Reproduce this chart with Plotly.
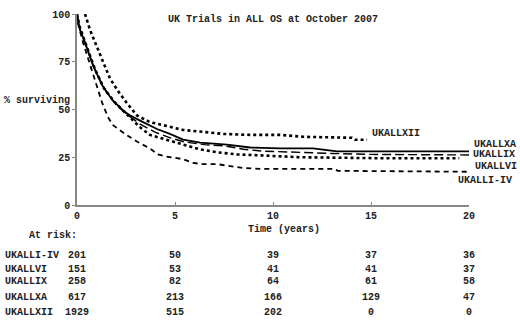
import plotly.graph_objects as go

# Survival curves (years, % surviving)
t_I_IV = [0, 0.05, 0.31, 0.82, 1.28, 1.58, 1.84, 2.45, 3.06, 3.72, 4.13, 4.49, 5.1, 5.41, 5.92, 6.43, 7.14, 7.96, 8.47, 9.34, 10.36, 13.16, 13.3, 20]
s_I_IV = [100, 95, 85, 68, 53.6, 46, 41.8, 37.2, 33.2, 29.6, 26.5, 25.5, 24.5, 24, 22, 21.4, 21.4, 20.4, 19.4, 18.9, 18.9, 18.9, 17.9, 17.4]

t_VI = [0, 0.2, 0.5, 1.0, 1.5, 2.0, 2.6, 3.2, 4.0, 4.8, 5.5, 6.5, 7.5, 8.5, 9.5, 11, 13, 15, 20]
s_VI = [100, 90, 82, 69, 59, 52.5, 47, 42.5, 38, 35, 33, 31.6, 31, 29.2, 28.2, 27.6, 27, 26.5, 26.2]

t_IX = [0, 0.15, 0.46, 0.92, 1.38, 1.94, 2.55, 3.2, 3.72, 4.59, 5.41, 6.28, 7.14, 8.16, 9.34, 11.38, 15.46, 19.5]
s_IX = [100, 93, 84, 71, 61, 53.6, 47.4, 40.8, 36.7, 34.2, 31.6, 29.1, 27.6, 26.5, 26, 25, 24.5, 24.5]

t_XA = [0, 0.15, 0.41, 0.82, 1.28, 1.79, 2.35, 2.7, 3.37, 4.08, 4.74, 5.41, 6.28, 7.65, 8.83, 10.36, 12.04, 13.27, 20]
s_XA = [99.5, 91.8, 85.2, 73, 62.8, 55.1, 49.5, 46.9, 43.4, 39.8, 37.2, 34.2, 32.6, 31.6, 30.1, 29.6, 29.6, 28.1, 28.1]

t_XII = [0.41, 0.66, 0.92, 1.33, 1.68, 2.09, 2.6, 3.06, 3.72, 4.39, 5.41, 6.43, 7.45, 8.83, 10.36, 11.53, 14.03, 14.18, 14.8]
s_XII = [100, 91.8, 85.2, 75, 66.3, 59.7, 52.6, 46.9, 43.4, 41.8, 39.3, 38.3, 37.2, 36.7, 36.7, 35.7, 35.2, 34.2, 34.2]

# At-risk table
risk_times = [0, 5, 10, 15, 20]
trial_names = ["UKALLI-IV", "UKALLVI", "UKALLIX", "UKALLXA", "UKALLXII"]
risk_I_IV = [201, 50, 39, 37, 36]
risk_VI = [151, 53, 41, 41, 37]
risk_IX = [258, 82, 64, 61, 58]
risk_XA = [617, 213, 166, 129, 47]
risk_XII = [1929, 515, 202, 0, 0]
risk_rows = [risk_I_IV, risk_VI, risk_IX, risk_XA, risk_XII]

x_ticks = [0, 5, 10, 15, 20]
y_ticks = [0, 25, 50, 75, 100]

FONT = dict(family="Liberation Mono, Courier New, monospace", size=10, color="#222", weight="bold")

fig = go.Figure()
fig.add_trace(go.Scatter(x=t_I_IV, y=s_I_IV, mode="lines", line=dict(color="black", width=1.8, dash="5px,4px"), name="UKALLI-IV"))
fig.add_trace(go.Scatter(x=t_VI, y=s_VI, mode="lines", line=dict(color="black", width=1.4, dash="9px,4px"), name="UKALLVI"))
fig.add_trace(go.Scatter(x=t_IX, y=s_IX, mode="lines", line=dict(color="black", width=2.6, dash="dot"), name="UKALLIX"))
fig.add_trace(go.Scatter(x=t_XA, y=s_XA, mode="lines", line=dict(color="black", width=1.8), name="UKALLXA"))
fig.add_trace(go.Scatter(x=t_XII, y=s_XII, mode="lines", line=dict(color="black", width=2.6, dash="dot"), name="UKALLXII"))

# Curve end labels (positions as fractions of the plot area)
end_labels = [("UKALLXII", 0.747, 0.372), ("UKALLXA", 1.0077, 0.316),
              ("UKALLIX", 1.005, 0.265), ("UKALLVI", 1.010, 0.199),
              ("UKALLI-IV", 0.967, 0.128)]
for txt, xx, yy in end_labels:
    fig.add_annotation(x=xx, y=yy, xref="paper", yref="paper", text=txt, showarrow=False,
                       xanchor="left", yanchor="middle", font=FONT)

# Title and axis labels
fig.add_annotation(x=0.5, y=0.969, xref="paper", yref="paper", text="UK Trials in ALL OS at October 2007",
                   showarrow=False, xanchor="center", yanchor="middle", font=FONT)
fig.add_annotation(x=-0.0125, y=0.546, xref="paper", yref="paper", text="% surviving",
                   showarrow=False, xanchor="right", yanchor="middle", font=FONT)
fig.add_annotation(x=0.527, y=-0.128, xref="paper", yref="paper", text="Time (years)",
                   showarrow=False, xanchor="center", yanchor="middle", font=FONT)
fig.add_annotation(x=0.005, y=-0.158, xref="paper", yref="paper", text="At risk:",
                   showarrow=False, xanchor="right", yanchor="middle", font=FONT)

row_y = [-0.265, -0.337, -0.403, -0.485, -0.561]
for name, vals, ry in zip(trial_names, risk_rows, row_y):
    fig.add_annotation(x=-0.189, y=ry, xref="paper", yref="paper", text=name, showarrow=False,
                       xanchor="left", yanchor="middle", font=FONT)
    for tt, v in zip(risk_times, vals):
        fig.add_annotation(x=tt, y=ry, xref="x", yref="paper", text=str(v), showarrow=False,
                           xanchor="center", yanchor="middle", font=FONT)

fig.update_layout(
    width=520, height=323,
    margin=dict(l=77, r=51, t=9, b=118),
    paper_bgcolor="white", plot_bgcolor="white",
    showlegend=False,
    font=FONT,
)
fig.update_xaxes(range=[0, 20], tickvals=x_ticks, showgrid=False, zeroline=False,
                 showline=True, linecolor="#888", linewidth=1.5, ticks="inside", ticklen=3,
                 tickcolor="#888", tickfont=FONT)
fig.update_yaxes(range=[0, 100], tickvals=y_ticks, showgrid=False, zeroline=False,
                 showline=True, linecolor="#888", linewidth=1.5, ticks="outside", ticklen=3,
                 tickcolor="#888", tickfont=FONT)

fig.write_html("out.html", config={"displayModeBar": False},
               post_script="document.body.style.margin='0px';")
